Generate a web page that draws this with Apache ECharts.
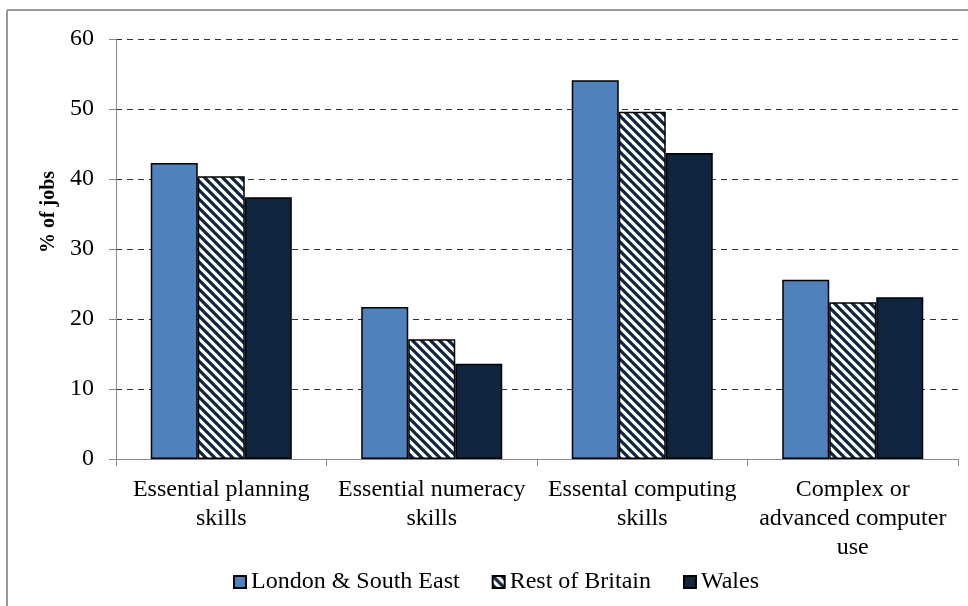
<!DOCTYPE html>
<html><head><meta charset="utf-8">
<script src="https://cdn.jsdelivr.net/npm/echarts@6/dist/echarts.min.js"></script>
<style>html,body{margin:0;padding:0;background:#fff}#c{width:968px;height:606px}</style>
</head><body><div id="c"></div>
<script>
const categories = ['Essential planning\nskills', 'Essential numeracy\nskills', 'Essental computing\nskills', 'Complex or\nadvanced computer\nuse'];
const seriesNames = ['London & South East', 'Rest of Britain', 'Wales'];
const london = [42.3, 21.7, 54.1, 25.6];
const rest = [40.4, 17.1, 49.6, 22.4];
const wales = [37.4, 13.6, 43.7, 23.1];
const yTicks = [0, 10, 20, 30, 40, 50, 60];
const yTitle = '% of jobs';

function stripePattern() {
  const s = 9;
  const cv = document.createElement('canvas');
  cv.width = s; cv.height = s;
  const ctx = cv.getContext('2d');
  ctx.fillStyle = '#fff';
  ctx.fillRect(0, 0, s, s);
  ctx.strokeStyle = '#10253f';
  ctx.lineWidth = 3.2;
  ctx.beginPath();
  for (let k = -1; k <= 1; k++) {
    ctx.moveTo(k * s - 1, -1);
    ctx.lineTo(k * s + s + 1, s + 1);
  }
  ctx.stroke();
  return cv;
}

const font = '"Liberation Serif", "Times New Roman", serif';
const chart = echarts.init(document.getElementById('c'));
chart.setOption({
  animation: false,
  textStyle: { fontFamily: font },
  graphic: [
    { type: 'line', shape: { x1: 7, y1: 10, x2: 7, y2: 606 }, style: { stroke: '#999', lineWidth: 2 } },
    { type: 'line', shape: { x1: 7, y1: 10, x2: 968, y2: 10 }, style: { stroke: '#999', lineWidth: 2 } },
    { type: 'text', x: 49, y: 212, rotation: Math.PI / 2,
      style: { text: yTitle, font: 'bold 20px ' + font, fill: '#000', align: 'center', verticalAlign: 'middle' } }
  ],
  grid: { left: 116, right: 10, top: 39, bottom: 147 },
  legend: {
    left: 233, top: 570, padding: 0,
    itemWidth: 12, itemHeight: 12, itemGap: 32,
    icon: 'rect',
    textStyle: { fontFamily: font, fontSize: 24, color: '#000', padding: [0, 0, 0, 0] },
    data: seriesNames
  },
  xAxis: {
    type: 'category', data: categories,
    axisLine: { lineStyle: { color: '#888', width: 1 } },
    axisTick: { show: true, length: 7, lineStyle: { color: '#888' } },
    axisLabel: { fontFamily: font, fontSize: 24, color: '#000', lineHeight: 29, margin: 16, interval: 0 }
  },
  yAxis: {
    type: 'value', min: 0, max: 60, interval: 10,
    axisLine: { show: true, lineStyle: { color: '#888' } },
    axisTick: { show: true, length: 7, lineStyle: { color: '#888' } },
    axisLabel: { fontFamily: font, fontSize: 24, color: '#000', margin: 22, padding: [5, 0, 0, 0],
      formatter: v => yTicks.includes(v) ? String(v) : '' },
    splitLine: { show: true, lineStyle: { color: '#333', type: [6, 5], width: 1 } }
  },
  series: [
    { name: seriesNames[0], type: 'bar', data: london, barGap: '0%', barCategoryGap: '33%',
      itemStyle: { color: '#4f81bd', borderColor: '#000', borderWidth: 1.5 } },
    { name: seriesNames[1], type: 'bar', data: rest,
      itemStyle: { color: { image: stripePattern(), repeat: 'repeat' }, borderColor: '#000', borderWidth: 1.5 } },
    { name: seriesNames[2], type: 'bar', data: wales,
      itemStyle: { color: '#10253f', borderColor: '#000', borderWidth: 1.5 } }
  ]
});
</script></body></html>
